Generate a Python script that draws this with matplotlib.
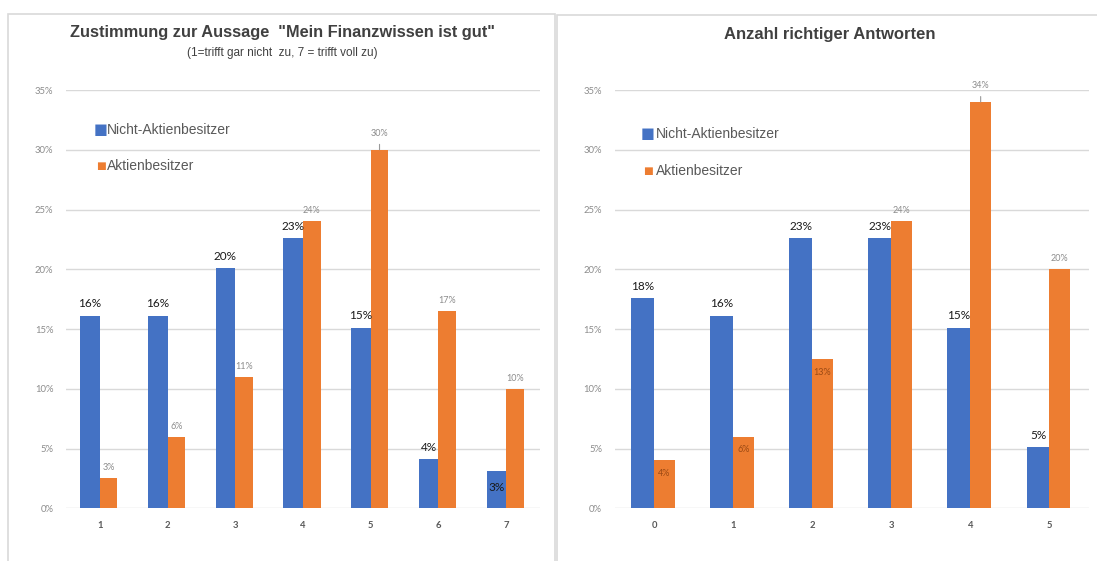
import matplotlib
matplotlib.use("Agg")
import matplotlib.pyplot as plt
from matplotlib.patches import Rectangle
import numpy as np

# ---------------- data ----------------
series_names = ["Nicht-Aktienbesitzer", "Aktienbesitzer"]

left_title = 'Zustimmung zur Aussage  "Mein Finanzwissen ist gut"'
left_subtitle = "(1=trifft gar nicht  zu, 7 = trifft voll zu)"
left_categories = ["1", "2", "3", "4", "5", "6", "7"]
left_non_owners = [0.161, 0.161, 0.201, 0.226, 0.151, 0.041, 0.031]
left_owners = [0.025, 0.060, 0.110, 0.240, 0.300, 0.165, 0.100]
left_non_labels = ["16%", "16%", "20%", "23%", "15%", "4%", "3%"]
left_own_labels = ["3%", "6%", "11%", "24%", "30%", "17%", "10%"]

right_title = "Anzahl richtiger Antworten"
right_categories = ["0", "1", "2", "3", "4", "5"]
right_non_owners = [0.176, 0.161, 0.226, 0.226, 0.151, 0.051]
right_owners = [0.040, 0.060, 0.125, 0.240, 0.340, 0.200]
right_non_labels = ["18%", "16%", "23%", "23%", "15%", "5%"]
right_own_labels = ["4%", "6%", "13%", "24%", "34%", "20%"]

yticks = [0, 0.05, 0.10, 0.15, 0.20, 0.25, 0.30, 0.35]

# ---------------- style ----------------
BLUE = "#4472C4"
ORANGE = "#ED7D31"
GRID = "#D9D9D9"
TITLE_C = "#404040"
LEG_C = "#595959"
W, H = 1097, 561
LABEL_FONT = "Lato"
TEXT_FONT = "Liberation Sans"

fig = plt.figure(figsize=(W / 100, H / 100), dpi=100)
fig.patch.set_facecolor("white")


def px_axes(x0, x1, ytop, ybot):
    return fig.add_axes([x0 / W, 1 - ybot / H, (x1 - x0) / W, (ybot - ytop) / H])


# panel borders
fig.add_artist(Rectangle((8 / W, -0.05), (555 - 8) / W, 1.05 - 14 / H,
                         transform=fig.transFigure, fill=False,
                         edgecolor=GRID, lw=1.2))
fig.add_artist(Rectangle((557 / W, -0.05), 0.5, 1.05 - 15 / H,
                         transform=fig.transFigure, fill=False,
                         edgecolor=GRID, lw=1.2))

BW_BLUE = 0.29
BW_OR = 0.26


def draw(ax, cats, non, own, non_lab, own_lab, inside_own, inside_non, leader):
    x = np.arange(len(cats))
    ax.bar(x, non, width=-BW_BLUE, align="edge", color=BLUE, zorder=3)
    ax.bar(x, own, width=BW_OR, align="edge", color=ORANGE, zorder=3)
    ax.set_xlim(-0.5, len(cats) - 0.5)
    ax.set_ylim(0, 0.35)
    ax.set_yticks(yticks)
    ax.set_yticklabels([f"{int(round(t * 100))}%" for t in yticks],
                       fontsize=6.8, color="#8C8C8C", family=LABEL_FONT)
    ax.set_xticks(x)
    ax.set_xticklabels(cats, fontsize=6.8, color="#595959",
                       family=LABEL_FONT, fontweight="bold")
    ax.tick_params(axis="both", length=0)
    ax.tick_params(axis="y", pad=9)
    ax.tick_params(axis="x", pad=9)
    for s in ax.spines.values():
        s.set_visible(False)
    ax.grid(axis="y", color=GRID, lw=1.0, zorder=0)
    ax.set_axisbelow(True)

    for i in range(len(cats)):
        cx = x[i] - BW_BLUE / 2
        if i in inside_non:
            ax.text(cx, non[i] - 0.014, non_lab[i], ha="center", va="center",
                    fontsize=8.5, color="#1a1a1a", family=LABEL_FONT, zorder=5)
        else:
            ax.text(cx, non[i] + 0.010, non_lab[i], ha="center", va="center",
                    fontsize=8.5, color="#1a1a1a", family=LABEL_FONT, zorder=5)
        ox = x[i] + BW_OR / 2
        if i in inside_own:
            ax.text(ox, own[i] - 0.011, own_lab[i], ha="center", va="center",
                    fontsize=6.5, color="#9C4A14", family=LABEL_FONT, zorder=5)
        elif i in leader:
            ax.annotate(own_lab[i], xy=(ox, own[i]), xytext=(ox, own[i] + 0.0135),
                        ha="center", va="center", fontsize=6.5, color="#8C8C8C",
                        family=LABEL_FONT, zorder=5,
                        arrowprops=dict(arrowstyle="-", color="#999999", lw=0.8,
                                        shrinkA=2.5, shrinkB=0))
        else:
            ax.text(ox, own[i] + 0.0088, own_lab[i], ha="center", va="center",
                    fontsize=6.5, color="#8C8C8C", family=LABEL_FONT, zorder=5)


def legend(xl, y1, y2, xm):
    fig.text(xm / W, 1 - y1 / H, "\u25A0", fontsize=10.5, color=BLUE,
             ha="center", va="center", family="DejaVu Sans")
    fig.text(xl / W, 1 - y1 / H, series_names[0], fontsize=10, color=LEG_C,
             ha="left", va="center", family=TEXT_FONT)
    fig.text(xm / W, 1 - y2 / H, "\u25A0", fontsize=7.5, color=ORANGE,
             ha="center", va="center", family="DejaVu Sans")
    fig.text(xl / W, 1 - y2 / H, series_names[1], fontsize=10, color=LEG_C,
             ha="left", va="center", family=TEXT_FONT)


axL = px_axes(66, 540, 90, 508.3)
draw(axL, left_categories, left_non_owners, left_owners,
     left_non_labels, left_own_labels, inside_own=[], inside_non=[6], leader=[4])
axR = px_axes(614.5, 1089, 90, 508.3)
draw(axR, right_categories, right_non_owners, right_owners,
     right_non_labels, right_own_labels, inside_own=[0, 1, 2], inside_non=[], leader=[4])

# titles
fig.text(282 / W, 1 - 33 / H, left_title, ha="center", va="center",
         fontsize=11.8, fontweight="bold", color=TITLE_C, family=TEXT_FONT)
fig.text(282 / W, 1 - 53 / H, left_subtitle, ha="center", va="center",
         fontsize=8.5, color=TITLE_C, family=TEXT_FONT)
fig.text(830 / W, 1 - 35 / H, right_title, ha="center", va="center",
         fontsize=12, fontweight="bold", color=TITLE_C, family=TEXT_FONT)

legend(107, 130, 166, 100.5)
legend(655.5, 134, 171, 648)

fig.savefig("out.png", dpi=100, facecolor="white")
